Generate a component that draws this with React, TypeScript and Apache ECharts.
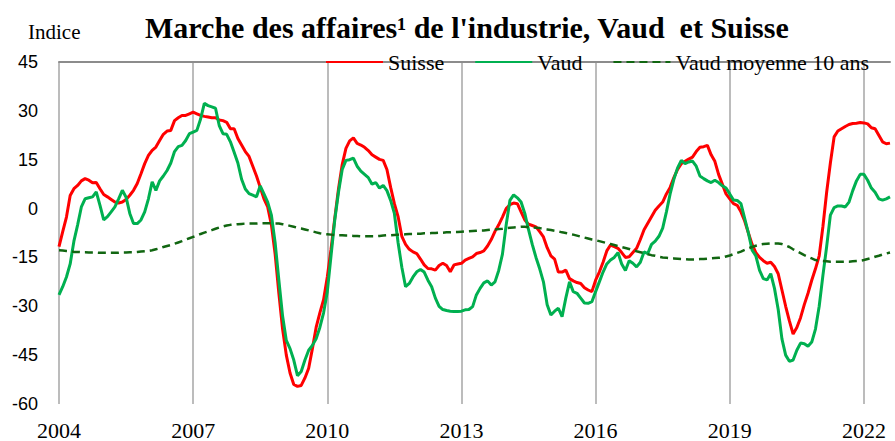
import React, { useEffect, useRef } from "react";
import * as echarts from "echarts";

const START_YEAR = 2004;
const YEAR_TICKS = ["2004", "2007", "2010", "2013", "2016", "2019", "2022"];
const Y_TICKS = [-60, -45, -30, -15, 0, 15, 30, 45];

const SUISSE = [
  -11.7, -7.1, -2.6, 4.0, 6.1, 7.1, 8.5, 9.2, 8.7, 7.9, 8.0, 6.1,
  4.3, 3.6, 2.8, 2.0, 1.7, 2.0, 2.8, 4.1, 5.6, 7.7, 10.7, 13.8,
  16.3, 17.9, 18.9, 20.9, 22.8, 23.8, 24.0, 27.0, 27.9, 28.6, 28.6, 29.1,
  29.6, 29.1, 28.6, 28.3, 28.1, 27.9, 27.9, 27.2, 27.0, 26.5, 24.5, 24.5,
  21.5, 19.5, 17.5, 16.0, 13.0, 10.0, 6.5, 3.0, 0.5, -5.0, -14.0, -26.0,
  -37.0, -45.0, -50.5, -54.0, -54.6, -54.3, -52.0, -49.0, -43.0, -36.5, -32.0, -28.0,
  -21.0, -12.5, -3.0, 6.0, 13.5, 18.5, 20.8, 21.7, 20.0, 19.5, 18.8, 17.8,
  16.5, 15.8, 15.1, 14.8, 12.0, 6.5, 1.5, -2.5, -8.5, -11.0, -12.5, -13.3,
  -13.8, -15.5, -17.3, -18.4, -18.5, -18.9, -17.5, -16.8, -17.5, -19.4, -17.3, -17.0,
  -16.8, -15.8, -15.3, -14.8, -13.8, -13.5, -13.0, -11.5, -9.5, -7.0, -5.0, -2.6,
  0.0, 1.2, 1.7, 1.5, -1.0, -3.5, -4.8, -5.2, -5.6, -7.1, -8.7, -12.0,
  -14.5, -15.5, -19.5, -19.5, -18.9, -21.5, -22.2, -22.7, -23.0, -24.3, -25.0, -25.5,
  -22.0, -19.5, -16.5, -13.0, -11.2, -11.7, -12.2, -13.5, -15.0, -14.8, -13.5, -12.2,
  -9.5, -6.5, -4.5, -2.5, -0.5, 0.8, 2.0, 4.5, 6.5, 9.5, 12.0, 13.8,
  14.5, 15.2, 15.8, 17.5, 18.8, 19.0, 19.4, 16.5, 14.5, 10.5, 7.5, 4.5,
  3.0, 1.5, 1.0, -1.0, -3.8, -7.5, -11.0, -13.5, -15.0, -16.0, -16.8, -16.5,
  -17.8, -20.0, -25.0, -30.0, -34.5, -38.5, -36.5, -33.5, -29.5, -26.0, -22.0, -18.5,
  -14.5, -5.5, 5.0, 14.0, 22.0, 23.8, 24.5, 25.2, 25.8, 26.1, 26.2, 26.4,
  26.3, 26.0, 24.8, 24.5, 22.5, 20.5, 19.9, 20.1,
];

const VAUD = [
  -26.5, -24.0, -21.0, -17.0, -10.0, -5.0, 0.5, 3.0, 3.3, 3.6, 5.1, 1.0,
  -3.5, -2.5, -1.0, 0.5, 3.0, 5.6, 3.5, -1.5, -4.6, -4.6, -3.5, -1.0,
  3.0, 8.2, 5.6, 8.5, 10.0, 11.7, 14.0, 17.5, 19.0, 19.4, 20.9, 23.0,
  23.5, 24.0, 27.5, 32.3, 31.6, 31.2, 30.8, 25.5, 23.0, 22.8, 20.5, 17.3,
  14.0, 9.0, 6.0, 4.6, 4.1, 3.6, 7.0, 4.5, 2.0, -2.0, -10.5, -22.0,
  -33.0, -40.5, -43.0, -46.5, -51.3, -50.0, -46.5, -43.5, -42.0, -40.0, -36.5, -32.0,
  -25.5, -14.5, -3.5, 5.0, 12.0, 14.8, 15.0, 15.5, 13.0, 11.5, 10.5, 9.5,
  7.5, 8.0, 6.3, 7.1, 5.5, 2.5, -1.5, -10.5, -18.0, -24.0, -23.0, -21.0,
  -19.4, -18.7, -19.5, -22.0, -24.0, -27.5, -30.0, -31.0, -31.3, -31.5, -31.6, -31.6,
  -31.5, -31.1, -31.0, -30.1, -26.5, -24.5, -22.8, -22.2, -23.5, -22.5, -19.0, -14.0,
  -5.0, 2.5, 4.2, 3.3, 2.0, -1.5, -6.5, -11.0, -15.0, -18.5, -22.5, -29.5,
  -32.7, -31.5, -30.6, -33.2, -27.5, -22.5, -25.5, -26.0, -27.5, -29.0, -29.1, -28.6,
  -25.5, -22.5, -19.5, -17.0, -15.8, -15.0, -13.5, -17.0, -19.0, -16.0, -16.8, -17.9,
  -16.5, -13.3, -13.8, -11.0, -10.0, -8.5, -6.0, -1.0, 4.5, 9.0, 12.5, 14.8,
  13.8, 14.3, 14.6, 13.0, 10.0, 9.2, 8.5, 8.0, 8.7, 8.0, 7.0, 6.3,
  4.5, 2.6, 2.5, 1.5, -3.0, -7.5, -12.8, -14.5, -19.0, -21.5, -21.9, -20.0,
  -24.5, -31.0, -40.0, -45.0, -46.9, -46.5, -43.5, -41.3, -41.5, -42.3, -41.0, -37.0,
  -30.0, -20.5, -11.7, -2.0, 0.3, 0.8, 0.8, 0.5, 2.0, 5.5, 8.5, 10.5,
  10.5, 8.7, 6.3, 5.0, 3.0, 2.6, 3.0, 3.6,
];

const VAUD_MOY10 = [
  -12.8, -12.9, -13.0, -13.1, -13.3, -13.3, -13.4, -13.4, -13.5, -13.5, -13.5, -13.6,
  -13.6, -13.6, -13.6, -13.6, -13.6, -13.5, -13.5, -13.4, -13.4, -13.3, -13.2, -13.1,
  -13.0, -12.8, -12.5, -12.2, -11.8, -11.5, -11.2, -10.8, -10.4, -10.0, -9.5, -9.1,
  -8.7, -8.3, -7.8, -7.4, -7.0, -6.6, -6.2, -5.8, -5.5, -5.2, -5.0, -4.9,
  -4.8, -4.7, -4.6, -4.6, -4.6, -4.6, -4.5, -4.5, -4.5, -4.5, -4.6, -4.6,
  -4.8, -5.0, -5.3, -5.6, -5.9, -6.1, -6.4, -6.7, -7.0, -7.3, -7.6, -7.8,
  -7.9, -8.0, -8.1, -8.2, -8.2, -8.3, -8.3, -8.4, -8.4, -8.5, -8.5, -8.5,
  -8.5, -8.5, -8.4, -8.3, -8.2, -8.2, -8.1, -8.0, -8.0, -7.9, -7.8, -7.8,
  -7.7, -7.7, -7.6, -7.6, -7.5, -7.5, -7.4, -7.4, -7.3, -7.3, -7.2, -7.2,
  -7.1, -7.0, -7.0, -6.9, -6.8, -6.7, -6.7, -6.6, -6.5, -6.4, -6.3, -6.2,
  -6.0, -5.9, -5.8, -5.7, -5.6, -5.6, -5.7, -5.8, -5.9, -6.0, -6.2, -6.4,
  -6.6, -6.8, -7.0, -7.3, -7.5, -7.8, -8.0, -8.3, -8.6, -8.9, -9.2, -9.5,
  -9.7, -10.0, -10.3, -10.6, -10.9, -11.2, -11.5, -11.8, -12.1, -12.4, -12.8, -13.1,
  -13.4, -13.7, -14.0, -14.3, -14.5, -14.8, -15.0, -15.1, -15.2, -15.3, -15.4, -15.5,
  -15.5, -15.6, -15.6, -15.6, -15.5, -15.5, -15.4, -15.3, -15.2, -15.1, -15.0, -14.7,
  -14.4, -14.0, -13.6, -13.2, -12.7, -12.2, -11.8, -11.4, -11.1, -10.9, -10.8, -10.7,
  -10.7, -10.7, -10.9, -11.3, -11.8, -12.5, -13.1, -13.7, -14.3, -14.8, -15.3, -15.8,
  -16.0, -16.1, -16.2, -16.3, -16.3, -16.3, -16.3, -16.3, -16.3, -16.2, -16.1, -16.0,
  -15.8, -15.5, -15.2, -14.8, -14.5, -14.1, -13.8, -13.5,
];

const MONTHS: string[] = SUISSE.map((_, i) => {
  const y = START_YEAR + Math.floor(i / 12);
  const m = (i % 12) + 1;
  return `${y}-${m < 10 ? "0" + m : m}`;
});

const isYearTick = (v: string) => v.endsWith("-01") && YEAR_TICKS.includes(v.slice(0, 4));

const SERIF = "'Liberation Serif', 'Times New Roman', serif";
const SANS = "'Liberation Sans', Arial, sans-serif";

export default function App() {
  const ref = useRef<HTMLDivElement>(null);
  useEffect(() => {
    document.body.style.margin = "0";
    if (!ref.current) return;
    const chart = echarts.init(ref.current, undefined, { renderer: "svg" });
    chart.setOption({
      animation: false,
      backgroundColor: "#ffffff",
      grid: { left: 59, right: 5, top: 62, bottom: 36, containLabel: false },
      legend: {
        left: 320,
        top: 46,
        itemWidth: 57,
        itemHeight: 14,
        itemGap: 30,
        itemStyle: { opacity: 0 },
        textStyle: { fontFamily: SERIF, fontSize: 22, color: "#000" },
        data: ["Suisse", "Vaud", "Vaud moyenne 10 ans"],
      },
      graphic: [
        {
          type: "text",
          x: 145,
          y: 27,
          style: {
            text: "Marche des affaires\u00b9 de l'industrie, Vaud  et Suisse",
            font: `bold 30px ${SERIF}`,
            fill: "#000",
            verticalAlign: "middle",
          },
        },
        {
          type: "text",
          x: 28,
          y: 32,
          style: {
            text: "Indice",
            font: `21px ${SERIF}`,
            fill: "#000",
            verticalAlign: "middle",
          },
        },
      ],
      xAxis: [
        {
          type: "category",
          data: MONTHS,
          boundaryGap: false,
          position: "bottom",
          axisLine: { show: false },
          axisTick: { show: false },
          axisLabel: {
            interval: (i: number, v: string) => isYearTick(v),
            formatter: (v: string) => v.slice(0, 4),
            fontFamily: SERIF,
            fontSize: 22,
            color: "#000",
            margin: 15,
          },
          splitLine: {
            show: true,
            interval: (i: number, v: string) => isYearTick(v),
            lineStyle: { color: "#a6a6a6", width: 1.5 },
          },
        },
        {
          type: "category",
          data: MONTHS,
          boundaryGap: false,
          axisLine: { show: true, onZero: true, lineStyle: { color: "#8c8c8c", width: 2 } },
          axisTick: { show: false },
          axisLabel: { show: false },
          splitLine: { show: false },
        },
      ],
      yAxis: {
        type: "value",
        min: Y_TICKS[0],
        max: Y_TICKS[Y_TICKS.length - 1],
        interval: 15,
        axisLine: { show: false },
        axisTick: { show: false },
        splitLine: { show: false },
        axisLabel: { fontFamily: SANS, fontSize: 18, color: "#000", margin: 21 },
      },
      series: [
        {
          name: "Suisse",
          type: "line",
          data: SUISSE,
          showSymbol: false,
          symbol: "none",
          lineStyle: { color: "#ff0000", width: 3 },
          itemStyle: { color: "#ff0000" },
        },
        {
          name: "Vaud",
          type: "line",
          data: VAUD,
          showSymbol: false,
          symbol: "none",
          lineStyle: { color: "#00b050", width: 3 },
          itemStyle: { color: "#00b050" },
        },
        {
          name: "Vaud moyenne 10 ans",
          type: "line",
          data: VAUD_MOY10,
          showSymbol: false,
          symbol: "none",
          lineStyle: { color: "#116611", width: 2.5, type: [8, 5] },
          itemStyle: { color: "#116611" },
        },
      ],
    });
    return () => chart.dispose();
  }, []);
  return <div ref={ref} style={{ width: 895, height: 441 }} />;
}
